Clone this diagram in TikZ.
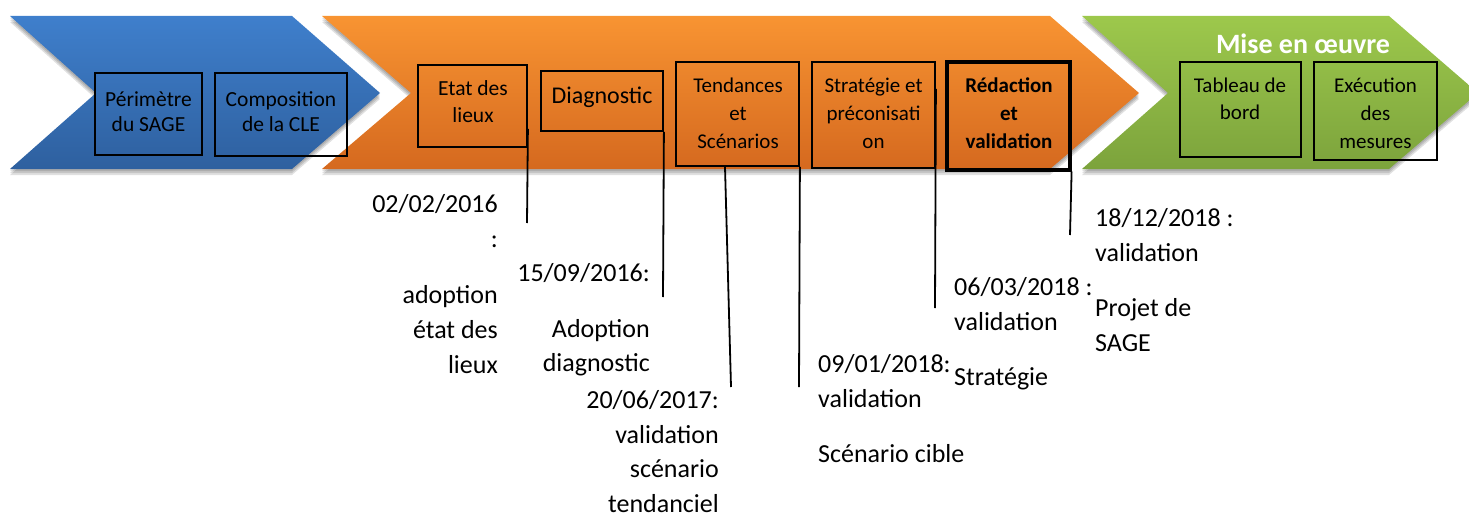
\documentclass[tikz,border=0pt]{standalone}
\usepackage{fontspec}
\setmainfont{Carlito}
\newcommand\topstrut{\rule{0pt}{0.9em}}
\definecolor{blueTop}{HTML}{3F7FCC}
\definecolor{blueBot}{HTML}{2E609F}
\definecolor{orTop}{HTML}{F89432}
\definecolor{orBot}{HTML}{D5691F}
\definecolor{grTop}{HTML}{9DC84C}
\definecolor{grBot}{HTML}{7CA33C}
\tikzset{
  box/.style={draw=black, line width=1.8pt, inner sep=0pt},
  btxt/.style={inner sep=0pt, align=center, anchor=north, font=\fontsize{21}{28}\selectfont},
  dtxt/.style={inner sep=0pt, font=\fontsize{26}{34.8}\selectfont},
  tick/.style={draw=black, line width=1.8pt},
  shadowfill/.style={fill=black, opacity=0.12},
}
\begin{document}
\begin{tikzpicture}[x=1pt, y=-1pt]
\useasboundingbox (0,0) rectangle (1469,516);

% soft shadows under the three chevrons
\foreach \d in {2,4,6} {
  \fill[shadowfill, yshift=-\d pt] (10,16) -- (292,16) -- (380,93) -- (292,169) -- (10,169) -- (96,93) -- cycle;
  \fill[shadowfill, yshift=-\d pt] (322,16) -- (1050,16) -- (1139,93) -- (1050,169) -- (322,169) -- (411,93) -- cycle;
  \fill[shadowfill, yshift=-\d pt] (1082,16) -- (1389,16) -- (1478,93) -- (1389,169) -- (1082,169) -- (1168,93) -- cycle;
}

% phase chevrons
\shade[top color=blueTop, bottom color=blueBot] (10,16) -- (292,16) -- (380,93) -- (292,169) -- (10,169) -- (96,93) -- cycle;
\shade[top color=orTop, bottom color=orBot] (322,16) -- (1050,16) -- (1139,93) -- (1050,169) -- (322,169) -- (411,93) -- cycle;
\shade[top color=grTop, bottom color=grBot] (1082,16) -- (1389,16) -- (1478,93) -- (1389,169) -- (1082,169) -- (1168,93) -- cycle;

\node[inner sep=0pt, anchor=north, text=white, font=\fontsize{28}{30}\selectfont\bfseries] (mise) at (1303,27.8) {\topstrut Mise en œuvre};

% step boxes
\node[box, minimum width=107pt, minimum height=82pt] (peri)  at (148.5,114) {};
\node[box, minimum width=132pt, minimum height=83pt] (compo) at (281,114.5) {};
\node[box, minimum width=109pt, minimum height=82pt] (etat)  at (472.5,106) {};
\node[box, minimum width=122pt, minimum height=60pt] (diag)  at (602,101) {};
\node[box, minimum width=123pt, minimum height=104pt] (tend) at (737.5,114) {};
\node[box, minimum width=123pt, minimum height=106pt] (strat) at (873.5,115) {};
\node[box, line width=3.2pt, minimum width=123pt, minimum height=108pt] (redac) at (1008.5,116) {};
\node[box, minimum width=121pt, minimum height=95pt] (tabl)  at (1240.5,109.5) {};
\node[box, minimum width=123pt, minimum height=98pt] (exec)  at (1375.5,111) {};

% box captions
\node[btxt, font=\fontsize{21.5}{25}\selectfont] (tperi)  at (148.5,86.7) {\topstrut Périmètre\\du SAGE};
\node[btxt, font=\fontsize{21.5}{25}\selectfont] (tcompo) at (281,86.7) {\topstrut Composition\\de la CLE};
\node[btxt, font=\fontsize{21.5}{27}\selectfont] (tetat)  at (473,75.7) {\topstrut Etat des\\lieux};
\node[btxt, font=\fontsize{24}{28}\selectfont] (tdiag)  at (602,81.4) {\topstrut Diagnostic};
\node[btxt] (ttend)  at (738,73.1) {\topstrut Tendances\\et\\Scénarios};
\node[btxt] (tstrat) at (873.5,73.1) {\topstrut Stratégie et\\préconisati\\on};
\node[btxt, font=\fontsize{21}{28}\selectfont\bfseries] (tredac) at (1009,73.1) {\topstrut Rédaction\\et\\validation};
\node[btxt, font=\fontsize{21}{27}\selectfont] (ttabl) at (1240,73.1) {\topstrut Tableau de\\bord};
\node[btxt] (texec) at (1375.5,73.1) {\topstrut Exécution\\des\\mesures};

% milestone leaders
\coordinate (e1) at (527,223);
\coordinate (d1) at (663,297);
\coordinate (t1) at (731,387);
\coordinate (t2) at (799,387);
\coordinate (s1) at (935,308);
\coordinate (r1) at (1070,235);
\draw[tick] ([yshift=19pt]etat.south east) -- (e1);
\draw[tick] (diag.south east) -- (d1);
\draw[tick] ([xshift=-12.5pt]tend.south) -- (t1);
\draw[tick] (tend.south east) -- (t2);
\draw[tick] ([yshift=80pt]strat.south east) -- (s1);
\draw[tick] (redac.south east) -- (r1);

% milestone dates
\node[dtxt, anchor=north east, align=right] (m1) at (498,188.6)
  {\topstrut 02/02/2016\\:\\[22pt]adoption\\état des\\lieux};
\node[dtxt, anchor=north east, align=right] (m2) at (650,257.6)
  {\topstrut 15/09/2016:\\[21pt]Adoption\\diagnostic};
\node[dtxt, anchor=north east, align=right] (m3) at (719,384.6)
  {\topstrut 20/06/2017:\\validation\\scénario\\tendanciel};
\node[dtxt, anchor=north west, align=left] (m4) at (818,348.6)
  {\topstrut 09/01/2018:\\validation\\[21pt]Scénario cible};
\node[dtxt, anchor=north west, align=left] (m5) at (954,271.6)
  {\topstrut 06/03/2018 :\\validation\\[21pt]Stratégie};
\node[dtxt, anchor=north west, align=left] (m6) at (1095,202.6)
  {\topstrut 18/12/2018 :\\validation\\[21pt]Projet de\\SAGE};
\end{tikzpicture}
\end{document}
